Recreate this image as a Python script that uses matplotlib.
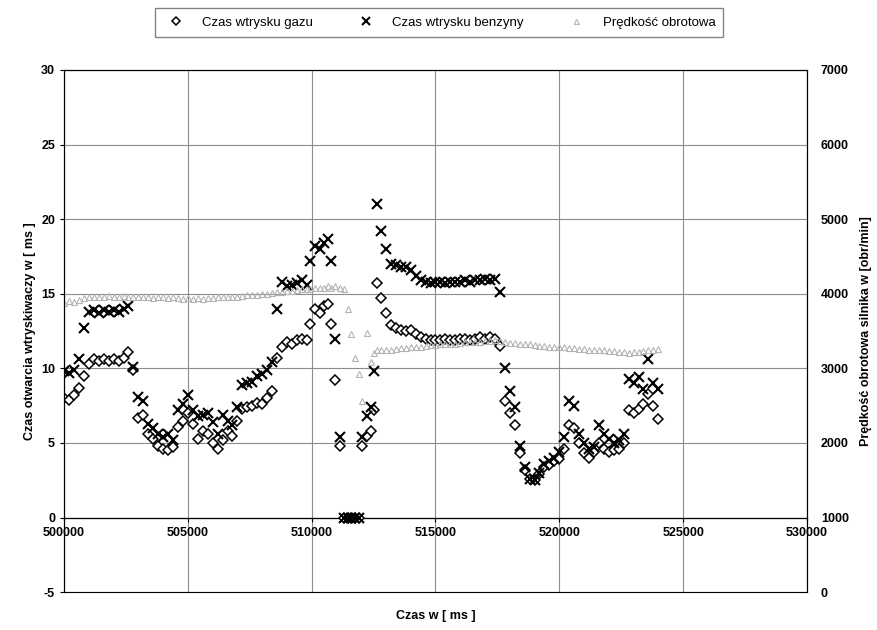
import matplotlib
matplotlib.use("Agg")
import matplotlib.pyplot as plt

plt.rcParams['font.family'] = ['Liberation Sans', 'DejaVu Sans']
plt.rcParams['axes.unicode_minus'] = False

# czas pomiaru [ms]
czas = [500000, 500200, 500400, 500600, 500800, 501000, 501200, 501400, 501600, 501800,
        502000, 502200, 502400, 502600, 502800, 503000, 503200, 503400, 503600, 503800,
        504000, 504200, 504400, 504600, 504800, 505000, 505200, 505400, 505600, 505800,
        506000, 506200, 506400, 506600, 506800, 507000, 507200, 507400, 507600, 507800,
        508000, 508200, 508400, 508600, 508800, 509000, 509200, 509400, 509600, 509800,
        509950, 510150, 510350, 510500, 510650, 510800, 510950, 511150, 511300, 511450,
        511600, 511750, 511900, 512050, 512250, 512400, 512500, 512650, 512800, 513000,
        513200, 513400, 513600, 513800, 514000, 514200, 514400, 514600, 514800, 515000,
        515200, 515400, 515600, 515800, 516000, 516200, 516400, 516600, 516800, 517000,
        517200, 517400, 517600, 517800, 518000, 518200, 518400, 518600, 518800, 519000,
        519200, 519400, 519600, 519800, 520000, 520200, 520400, 520600, 520800, 521000,
        521200, 521400, 521600, 521800, 522000, 522200, 522400, 522600, 522800, 523000,
        523200, 523400, 523600, 523800, 524000]

# czas wtrysku gazu [ms]
gaz = [8.0, 7.9, 8.2, 8.7, 9.5, 10.3, 10.6, 10.5, 10.6, 10.5,
       10.6, 10.5, 10.7, 11.1, 9.9, 6.7, 6.9, 5.6, 5.3, 4.8,
       4.6, 4.5, 4.7, 6.1, 6.5, 7.0, 6.3, 5.3, 5.8, 5.6,
       5.0, 4.6, 5.2, 5.8, 5.5, 6.5, 7.3, 7.4, 7.5, 7.7,
       7.6, 8.0, 8.5, 10.7, 11.4, 11.8, 11.6, 11.9, 12.0, 11.9,
       13.0, 14.0, 13.7, 14.2, 14.3, 13.0, 9.2, 4.8, 0, 0,
       0, 0, 0, 4.8, 5.5, 5.8, 7.2, 15.7, 14.7, 13.7,
       12.9, 12.7, 12.6, 12.5, 12.6, 12.3, 12.1, 12.0, 11.9, 11.9,
       11.9, 12.0, 11.9, 11.9, 12.0, 12.0, 11.9, 12.0, 12.1, 12.0,
       12.1, 12.0, 11.5, 7.8, 7.0, 6.2, 4.3, 3.2, 2.6, 2.5,
       2.9, 3.4, 3.5, 3.8, 3.9, 4.6, 6.2, 6.0, 5.0, 4.3,
       4.0, 4.4, 5.0, 4.6, 4.4, 4.5, 4.6, 5.0, 7.2, 7.0,
       7.3, 7.6, 8.3, 7.5, 6.6]

# czas wtrysku benzyny [ms]
benzyna = [9.8, 9.7, 9.9, 10.6, 12.7, 13.8, 13.9, 13.7, 13.9, 13.8,
           13.9, 13.8, 14.0, 14.2, 10.1, 8.1, 7.8, 6.3, 6.0, 5.6,
           5.4, 5.6, 5.2, 7.2, 7.6, 8.2, 7.2, 6.8, 6.9, 7.0,
           6.4, 5.6, 6.9, 6.5, 6.2, 7.4, 8.9, 9.0, 9.1, 9.5,
           9.6, 9.9, 10.4, 14.0, 15.8, 15.5, 15.6, 15.7, 15.9, 15.6,
           17.2, 18.2, 18.0, 18.4, 18.7, 17.2, 12.0, 5.4, 0, 0,
           0, 0, 0, 5.4, 6.8, 7.4, 9.8, 21.0, 19.2, 18.0,
           17.0, 16.9, 16.8, 16.8, 16.6, 16.2, 15.9, 15.8, 15.7, 15.8,
           15.8, 15.7, 15.8, 15.8, 15.8, 15.9, 15.8, 15.9, 15.9, 16.0,
           15.9, 16.0, 15.1, 10.0, 8.5, 7.4, 4.8, 3.4, 2.6, 2.5,
           3.0, 3.6, 3.8, 4.0, 4.4, 5.4, 7.8, 7.5, 5.6, 5.0,
           4.6, 4.7, 6.2, 5.6, 5.3, 5.0, 5.2, 5.6, 9.3, 9.0,
           9.4, 8.6, 10.6, 9.0, 8.6]

# prędkość obrotowa [obr/min]
obroty = [3880, 3900, 3890, 3920, 3940, 3950, 3960, 3950, 3960, 3970,
          3960, 3960, 3970, 3960, 3950, 3960, 3960, 3950, 3940, 3950,
          3950, 3940, 3950, 3940, 3930, 3940, 3930, 3940, 3930, 3940,
          3940, 3950, 3950, 3960, 3950, 3960, 3970, 3980, 3980, 3990,
          4000, 4000, 4010, 4020, 4030, 4040, 4040, 4050, 4060, 4060,
          4060, 4080, 4080, 4080, 4100, 4080, 4100, 4080, 4060, 3800,
          3460, 3140, 2920, 2560, 3480, 3080, 3200, 3240, 3240, 3250,
          3250, 3260, 3270, 3270, 3280, 3290, 3290, 3300, 3310, 3310,
          3320, 3320, 3330, 3330, 3340, 3350, 3350, 3360, 3360, 3370,
          3370, 3380, 3370, 3350, 3340, 3340, 3330, 3320, 3320, 3310,
          3300, 3300, 3290, 3290, 3280, 3280, 3270, 3270, 3260, 3260,
          3250, 3250, 3240, 3240, 3230, 3230, 3220, 3220, 3210, 3220,
          3220, 3230, 3240, 3250, 3260]

fig = plt.figure(figsize=(8.78, 6.30), dpi=100)
ax = fig.add_axes([0.073, 0.060, 0.846, 0.829])
ax2 = ax.twinx()

h1, = ax.plot(czas, gaz, linestyle='none', marker='D', ms=4.8, mfc='white',
              mec='black', mew=1.1, label='Czas wtrysku gazu', zorder=3)
h2, = ax.plot(czas, benzyna, linestyle='none', marker='x', ms=6.5, color='black',
              mew=1.5, label='Czas wtrysku benzyny', zorder=4)
h3, = ax2.plot(czas, obroty, linestyle='none', marker='^', ms=4.5, mfc='none',
               mec='#b4b4b4', mew=0.8, label='Prędkość obrotowa')

ax.set_xlim(500000, 530000)
ax.set_ylim(-5, 30)
ax2.set_ylim(0, 7000)
ax.set_xticks(range(500000, 530001, 5000))
ax.set_yticks(range(-5, 31, 5))
ax2.set_yticks(range(0, 7001, 1000))

ax.spines['bottom'].set_position(('data', 0))
ax.spines['bottom'].set_linewidth(0.9)
ax.grid(True, color='#8c8c8c', linewidth=0.8)
ax.set_axisbelow(True)
ax.tick_params(axis='both', labelsize=9, length=3, width=0.8)
ax2.tick_params(axis='y', labelsize=9, length=0, pad=10)
for lab in ax.get_xticklabels() + ax.get_yticklabels() + ax2.get_yticklabels():
    lab.set_fontweight('bold')

ax.set_xlabel('Czas w [ ms ]', fontsize=9, fontweight='bold')
ax.xaxis.set_label_coords(0.5, -0.035)
ax.set_ylabel('Czas otwarcia wtryskiwaczy w [ ms ]', fontsize=9, fontweight='bold')
ax2.set_ylabel('Prędkość obrotowa silnika w [obr/min]', fontsize=9,
               fontweight='bold', labelpad=8)

fig.legend(handles=[h1, h2, h3], loc='upper center', bbox_to_anchor=(0.5, 0.997),
           ncol=3, fontsize=9.5, frameon=True, fancybox=False, edgecolor='#666666',
           handletextpad=1.0, columnspacing=3.0, borderpad=0.6, handlelength=2.0,
           markerscale=0.8)

fig.savefig('out.png', dpi=100)
